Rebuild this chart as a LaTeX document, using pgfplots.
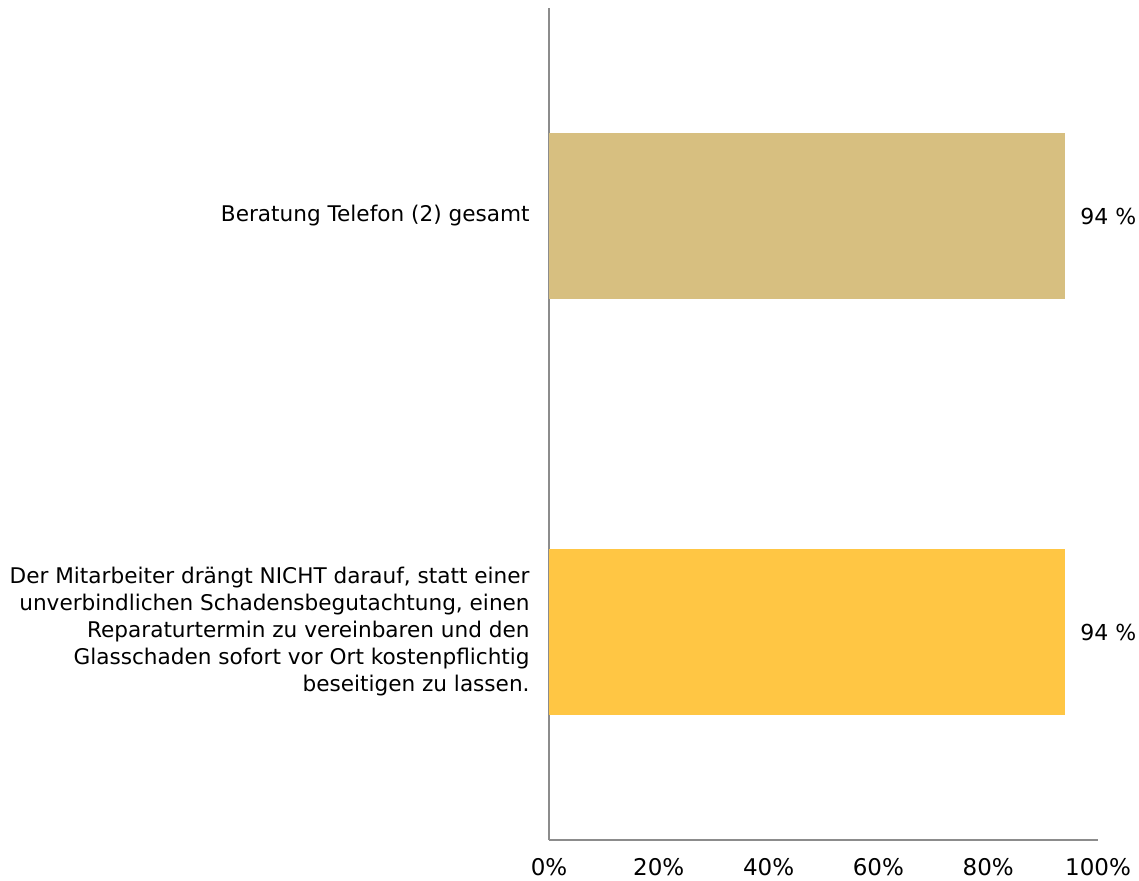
\documentclass[border=0pt]{standalone}
\usepackage{fontspec}
\setmainfont{DejaVu Sans}
\usepackage{pgfplots}
\pgfplotsset{compat=1.18}
\definecolor{barTan}{RGB}{215,191,128}
\definecolor{barGold}{RGB}{255,198,68}
\definecolor{axisGray}{RGB}{140,140,140}
\begin{document}
\begin{tikzpicture}
\begin{axis}[
  at={(0,0)}, anchor=south west,
  scale only axis, width=274.5pt, height=416pt,
  xbar, bar shift=0pt, bar width=0.4,
  xmin=0, xmax=100, ymin=-0.5, ymax=1.5,
  axis x line*=bottom, axis y line*=left,
  axis line style={draw=axisGray, line width=1pt},
  major tick length=0pt,
  xtick={0,20,...,100},
  xticklabel={\pgfmathprintnumber{\tick}\%},
  ytick={0,1},
  yticklabels={{Der Mitarbeiter drängt NICHT darauf, statt einer\\unverbindlichen Schadensbegutachtung, einen\\Reparaturtermin zu vereinbaren und den\\Glasschaden sofort vor Ort kostenpflichtig\\beseitigen zu lassen.},{Beratung Telefon (2) gesamt}},
  /pgf/number format/assume math mode=true,
  tick label style={text=black},
  yticklabel style={font=\fontsize{10.8}{13.5}\selectfont, align=right, inner sep=0pt, xshift=-9.5pt},
  xticklabel style={font=\fontsize{11.5}{14}\selectfont, inner sep=0pt, yshift=-9pt},
  nodes near coords={\pgfmathprintnumber{\pgfplotspointmeta}~\%},
  every node near coord/.append style={anchor=west, inner sep=0pt, xshift=7.5pt, font=\fontsize{11}{13.5}\selectfont, text=black},
  clip=false,
]
\addplot[fill=barTan, draw=none] coordinates {(94,1)};
\addplot[fill=barGold, draw=none] coordinates {(94,0)};
\end{axis}
\pgfresetboundingbox
\path (-274.5pt,-20pt) rectangle (295pt,420pt);
\end{tikzpicture}
\end{document}
